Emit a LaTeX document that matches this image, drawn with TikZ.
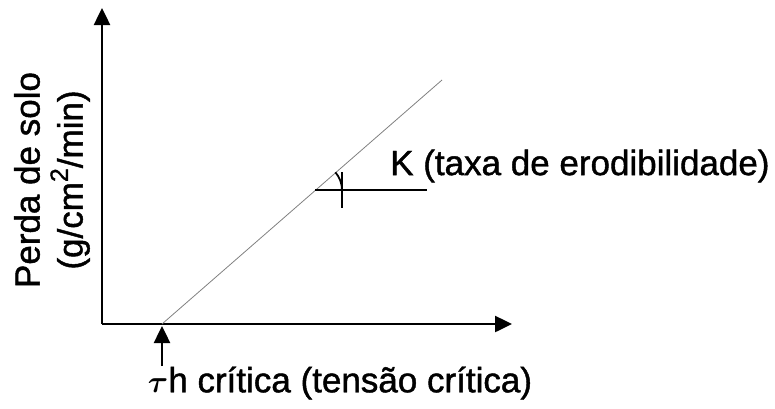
\documentclass[tikz,border=0pt]{standalone}
\usepackage{amsmath}
\usepackage{fontspec}
\setmainfont[FakeBold=1.2]{Liberation Sans}
\usetikzlibrary{arrows.meta}
\tikzset{axis/.style={line width=2.5pt,-{Triangle[length=17pt,width=16pt]}},
  lbl/.style={font=\fontsize{35}{43}\selectfont,inner sep=0pt}}
\newcommand{\sqsup}{\raisebox{0.42em}{\fontsize{25}{25}\selectfont 2}}
\newcommand{\tauh}{\scalebox{1.25}{$\boldsymbol{\tau}$}}

\begin{document}
\begin{tikzpicture}[x=1pt,y=-1pt]
\useasboundingbox (0,0) rectangle (775,408);

\coordinate (o) at (102,324);
\coordinate (ytop) at (102,8);
\coordinate (xend) at (512,324);
\coordinate (tc) at (162,324);
\coordinate (tcfoot) at (162,366);
\coordinate (top) at (442,80);
\coordinate (k) at (315,190);
\coordinate (kend) at (427,190);
\coordinate (ticka) at (342,172);
\coordinate (tickb) at (342,208);

% axes
\draw[axis] (o) -- (ytop);
\draw[axis] (o) -- (xend);

% perda de solo
\draw[line width=0.8pt,gray] (tc) -- (top);

% taxa
\draw[line width=2pt] (k) -- (kend);
\draw[line width=1.8pt] (ticka) -- (tickb);
\draw[line width=1.8pt] ([shift={(0:27)}]k) arc (0:-41:27);
\node[lbl,anchor=west] (klab) at (390,166) {K (taxa de erodibilidade)};

% tensao critica
\draw[axis,shorten >=2pt] (tcfoot) -- (tc);
\node[lbl] (tlab) at (340,383) {\tauh h crítica (tensão crítica)};

\node[lbl,rotate=90,align=center] (ylab) at (52,180) {Perda de solo\\(g/cm\sqsup/min)};
\end{tikzpicture}
\end{document}
